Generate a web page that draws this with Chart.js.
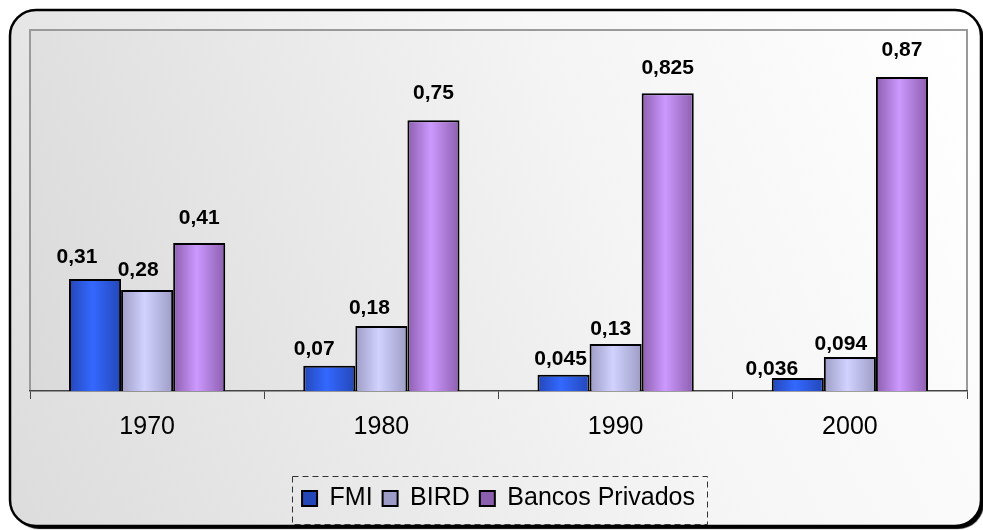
<!DOCTYPE html>
<html>
<head>
<meta charset="utf-8">
<script src="https://cdn.jsdelivr.net/npm/chart.js@4.4.1/dist/chart.umd.min.js"></script>
<style>
  html, body { margin: 0; padding: 0; background: #ffffff; }
  #wrap { width: 983px; height: 530px; position: relative; }
</style>
</head>
<body>
<div id="wrap"><canvas id="chart" width="983" height="530"></canvas></div>
<script>
// Chart data
const decades = ['1970', '1980', '1990', '2000'];
const fmiValues = [0.31, 0.07, 0.045, 0.036];
const birdValues = [0.28, 0.18, 0.13, 0.094];
const bancosValues = [0.41, 0.75, 0.825, 0.87];
const seriesNames = ['FMI', 'BIRD', 'Bancos Privados'];

const FONT = '"Liberation Sans", Arial, sans-serif';
const CAT_PCT = 0.667;

// Label nudges (px) relative to the bar top centre, per series and decade
const labelNudge = [
    [[-18, -22], [-15, -17], [-3, -16], [-26, -9]],
    [[-9, -20], [-12, -18], [-5, -15], [-9, -13]],
    [[0, -25], [0, -27], [0, -25], [0, -27]]
];

// Horizontal gradient for each bar: dark edges, light centre
function barGradient(edge, mid) {
    return function(context) {
        const chart = context.chart;
        const xs = chart.scales.x;
        if (!xs || context.dataIndex === undefined || !chart.chartArea) return mid;
        const w = (xs.width / decades.length) * CAT_PCT / 3;
        const cx = xs.getPixelForValue(context.dataIndex) + (context.datasetIndex - 1) * w;
        const g = chart.ctx.createLinearGradient(cx - w / 2, 0, cx + w / 2, 0);
        g.addColorStop(0, edge);
        g.addColorStop(0.45, mid);
        g.addColorStop(1, edge);
        return g;
    };
}

// Backgrounds: rounded outer frame and plot area
const frame = {
    id: 'frame',
    beforeDraw(chart) {
        const ctx = chart.ctx;
        const ca = chart.chartArea;
        ctx.save();
        ctx.fillStyle = '#ffffff';
        ctx.fillRect(0, 0, chart.width, chart.height);

        const x0 = 10, y0 = 10, x1 = 981, y1 = 526, r = 26;
        ctx.beginPath();
        ctx.roundRect(x0, y0, x1 - x0, y1 - y0, r);
        ctx.shadowColor = 'rgba(0,0,0,1)';
        ctx.shadowOffsetX = 3;
        ctx.shadowOffsetY = 3;
        ctx.shadowBlur = 1;
        const g = ctx.createLinearGradient(x0, y1, x1, y0);
        g.addColorStop(0, '#dcdcdc');
        g.addColorStop(0.6, '#f6f6f6');
        g.addColorStop(1, '#ffffff');
        ctx.fillStyle = g;
        ctx.fill();
        ctx.shadowColor = 'transparent';
        ctx.lineWidth = 2.5;
        ctx.strokeStyle = '#000000';
        ctx.stroke();

        const pg = ctx.createLinearGradient(ca.left, ca.bottom, ca.right, ca.top);
        pg.addColorStop(0, '#dadada');
        pg.addColorStop(0.6, '#f4f4f4');
        pg.addColorStop(1, '#ffffff');
        ctx.fillStyle = pg;
        ctx.fillRect(ca.left, ca.top, ca.right - ca.left, ca.bottom - ca.top);

        ctx.beginPath();
        ctx.moveTo(ca.left, ca.bottom);
        ctx.lineTo(ca.left, ca.top);
        ctx.lineTo(ca.right, ca.top);
        ctx.lineTo(ca.right, ca.bottom);
        ctx.lineWidth = 2;
        ctx.strokeStyle = '#9a9a9a';
        ctx.stroke();
        ctx.restore();
    },
    afterDraw(chart) {
        // dashed box round the legend
        const lg = chart.legend;
        if (!lg || !lg.legendHitBoxes || !lg.legendHitBoxes.length) return;
        const boxes = lg.legendHitBoxes;
        const left = Math.min(...boxes.map(b => b.left)) - 10;
        const right = Math.max(...boxes.map(b => b.left + b.width)) + 12;
        const top = lg.top;
        const bottom = top + 48;
        const ctx = chart.ctx;
        ctx.save();
        ctx.setLineDash([6, 4]);
        ctx.lineWidth = 1;
        ctx.strokeStyle = '#333333';
        ctx.strokeRect(Math.round(left) + 0.5, Math.round(top) + 0.5, Math.round(right - left), Math.round(bottom - top));
        ctx.restore();
    }
};

// Value labels above bars, comma decimals
const valueLabels = {
    id: 'valueLabels',
    afterDatasetsDraw(chart) {
        const ctx = chart.ctx;
        ctx.save();
        ctx.font = 'bold 21px ' + FONT;
        ctx.fillStyle = '#000000';
        ctx.textAlign = 'center';
        ctx.textBaseline = 'middle';
        chart.data.datasets.forEach((ds, di) => {
            const meta = chart.getDatasetMeta(di);
            meta.data.forEach((bar, i) => {
                const n = labelNudge[di][i];
                const txt = String(ds.data[i]).replace('.', ',');
                ctx.fillText(txt, bar.x + n[0], bar.y + n[1]);
            });
        });
        ctx.restore();
    }
};

new Chart(document.getElementById('chart'), {
    type: 'bar',
    data: {
        labels: decades,
        datasets: [
            {
                label: seriesNames[0],
                data: fmiValues,
                backgroundColor: barGradient('#2447b8', '#3368ff'),
                borderColor: '#000000',
                borderWidth: 2
            },
            {
                label: seriesNames[1],
                data: birdValues,
                backgroundColor: barGradient('#9c9cc6', '#d2d2ff'),
                borderColor: '#000000',
                borderWidth: 2
            },
            {
                label: seriesNames[2],
                data: bancosValues,
                backgroundColor: barGradient('#8c5eae', '#cc99ff'),
                borderColor: '#000000',
                borderWidth: 2
            }
        ]
    },
    options: {
        responsive: false,
        animation: false,
        layout: { padding: { left: 30, right: 16, top: 30, bottom: 9 } },
        datasets: { bar: { categoryPercentage: CAT_PCT, barPercentage: 1 } },
        plugins: {
            legend: {
                display: true,
                position: 'bottom',
                labels: {
                    boxWidth: 15,
                    boxHeight: 15,
                    padding: 10,
                    color: '#000000',
                    font: { family: FONT, size: 25 }
                }
            },
            tooltip: { enabled: false }
        },
        scales: {
            x: {
                grid: {
                    display: true,
                    drawOnChartArea: false,
                    tickLength: 8,
                    color: '#444444',
                    lineWidth: 1
                },
                border: { display: true, color: '#444444', width: 1.5 },
                ticks: {
                    color: '#000000',
                    padding: 13,
                    font: { family: FONT, size: 25 }
                },
                afterFit: function(scale) { scale.height = 85; }
            },
            y: {
                display: false,
                min: 0,
                max: 1
            }
        }
    },
    plugins: [frame, valueLabels]
});
</script>
</body>
</html>
